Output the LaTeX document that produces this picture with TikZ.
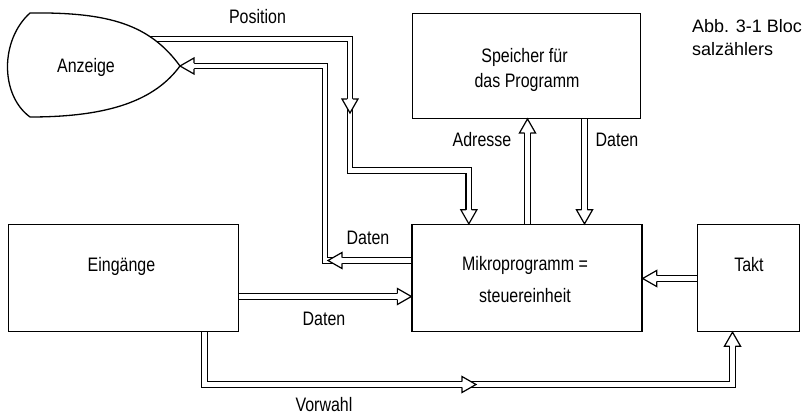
\documentclass[tikz,border=0pt]{standalone}
\usepackage{fontspec}
\setmainfont{Liberation Sans}
\newfontfamily\dinfont{Liberation Sans}[FakeStretch=0.82]
\newfontfamily\capfont{Liberation Sans}
\usetikzlibrary{calc}
\begin{document}
\begin{tikzpicture}[x=1pt,y=-1pt,
  box/.style={draw, line width=1.3pt, minimum height=107pt, inner sep=0pt},
  bus/.style={draw, line width=1.2pt, double, double distance=4.5pt, line join=miter, line cap=butt},
  endbus/.style={bus, shorten >=14pt},
  lbl/.style={font=\dinfont\fontsize{19.5}{24}\selectfont, anchor=base, inner sep=0pt},
  captxt/.style={font=\capfont\fontsize{18}{22}\selectfont, anchor=base west, inner sep=0pt},
  ahead/.pic={
    \fill[white] (-14pt,8pt) -- (0pt,0pt) -- (-14pt,-8pt) -- cycle;
    \draw[line width=1.2pt, line join=miter] (-14pt,2.85pt) -- (-14pt,8pt) -- (0pt,0pt) -- (-14pt,-8pt) -- (-14pt,-2.85pt);
  }]
\useasboundingbox (0,0) rectangle (806,414);

% boxes
\node[box, minimum width=228pt, minimum height=105pt] (spe) at (526.2,65.8) {};
\node[box, minimum width=230pt] (mik) at (527,278) {};
\node[box, minimum width=102pt] (tak) at (748.8,278) {};
\node[box, minimum width=230pt] (ein) at (123.3,278) {};

% coordinates
\coordinate (anztip) at (180,66);
\coordinate (posA) at (150,39);
\coordinate (posB) at (350,170.5);
\coordinate (posC) at ($(mik.north west)+(57.5,0)$);
\coordinate (adr) at (527.5,0);
\coordinate (dat) at (584.5,0);
\coordinate (tk) at (0,278.5);
\coordinate (ed) at (0,296.5);
\coordinate (md) at (0,260.5);
\coordinate (mdtop) at (325,66);
\coordinate (vl) at (204.5,384.5);
\coordinate (vr) at (732.5,384.5);

% connectors
\draw[endbus] (posA) -| (posB) -| (posC);
\draw[endbus] (mik.north -| adr) -- (spe.south -| adr);
\draw[endbus] (spe.south -| dat) -- (mik.north -| dat);
\draw[endbus] (tak.west |- tk) -- (mik.east |- tk);
\draw[endbus] (ein.east |- ed) -- (mik.west |- ed);
\draw[endbus] (mik.west |- md) -| (mdtop) -- (anztip);
\draw[endbus] (ein.south -| vl) -- (vl) -- (vr) -- (tak.south -| vr);

% Anzeige shape
\draw[line width=1.3pt, fill=white] (30,13) .. controls (110,12) and (150,25) .. (anztip)
  .. controls (155,100) and (110,117) .. (30,117)
  .. controls (0,95) and (0,40) .. (30,13) -- cycle;
\node[lbl] (anz) at (86,73) {Anzeige};

% arrowheads
\pic[rotate=-90] at (350,113) {ahead};
\pic[rotate=-90] at (posC) {ahead};
\pic[rotate=90] at (spe.south -| adr) {ahead};
\pic[rotate=-90] at (mik.north -| dat) {ahead};
\pic[rotate=180] at (mik.east |- tk) {ahead};
\pic[rotate=0] at (mik.west |- ed) {ahead};
\pic[rotate=180] at (328,260.5) {ahead};
\pic[rotate=180] at (anztip) {ahead};
\pic[rotate=0] at (476,384.5) {ahead};
\pic[rotate=90] at (tak.south -| vr) {ahead};

% texts
\node[lbl] (tpos) at (257.5,24) {Position};
\node[lbl] (tsp1) at (524.5,63) {Speicher für};
\node[lbl] (tsp2) at (527,88) {das Programm};
\node[lbl] (tadr) at (482,147) {Adresse};
\node[lbl] (tdat1) at (617,147) {Daten};
\node[lbl] (tdat2) at (368,245) {Daten};
\node[lbl] (tmik1) at (525,270) {Mikroprogramm =};
\node[lbl] (tmik2) at (525,302) {steuereinheit};
\node[lbl] (tein) at (121.5,271) {Eingänge};
\node[lbl] (ttak) at (749,271) {Takt};
\node[lbl] (tdat3) at (324,325) {Daten};
\node[lbl] (tvor) at (324,411.5) {Vorwahl};
\node[captxt] (cap1) at (692,33) {Abb. 3-1 Bloc};
\node[captxt] (cap2) at (692,56) {salzählers};
\end{tikzpicture}
\end{document}
